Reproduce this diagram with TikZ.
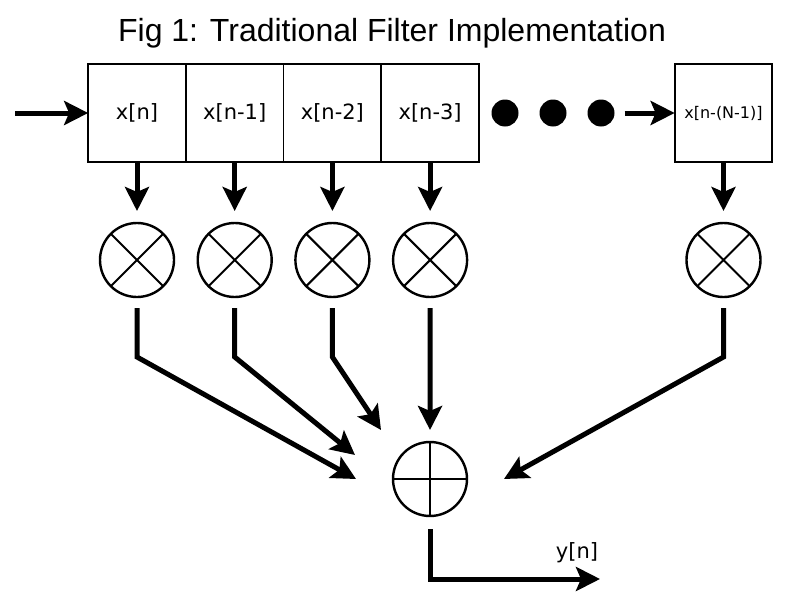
\documentclass[tikz,border=0pt]{standalone}
\usepackage{fontspec}
\newfontfamily\titlefont{Liberation Sans}
\newfontfamily\regfont{DejaVu Sans}
\usetikzlibrary{arrows.meta,positioning,calc}

\begin{document}
\begin{tikzpicture}[x=1pt, y=-1pt, >={Stealth[length=24pt, width=24pt, inset=5pt]},
    reg/.style={draw, line width=1.8pt, minimum width=97.7pt, minimum height=98pt, inner sep=0pt, outer sep=0pt, font=\regfont\fontsize{21}{25}\selectfont},
    mult/.style={circle, draw, line width=2.4pt, minimum size=74pt, inner sep=0pt, outer sep=0pt,
        path picture={\draw[line width=2pt] (path picture bounding box.north west) -- (path picture bounding box.south east)
            (path picture bounding box.north east) -- (path picture bounding box.south west);}},
    adder/.style={circle, draw, line width=2.4pt, minimum size=74pt, inner sep=0pt, outer sep=0pt,
        path picture={\draw[line width=2pt] (path picture bounding box.north) -- (path picture bounding box.south)
            (path picture bounding box.west) -- (path picture bounding box.east);}},
    dot/.style={circle, fill, minimum size=27pt, inner sep=0pt},
    wire/.style={line width=5pt}]
    \useasboundingbox (0,0) rectangle (792,605);

    \node[font=\titlefont\fontsize{32}{38}\selectfont] (title) at (392,33) {Fig 1: Traditional Filter Implementation};

    % shift register
    \node[reg] (x0) at (137,113) {x[n]};
    \node[reg, right=0pt of x0] (x1) {x[n-1]};
    \node[reg, right=0pt of x1] (x2) {x[n-2]};
    \node[reg, right=0pt of x2] (x3) {x[n-3]};
    \node[dot] (d1) at (505,113) {};
    \node[dot] (d2) at (553,113) {};
    \node[dot] (d3) at (601,113) {};
    \node[reg, font=\regfont\fontsize{16}{20}\selectfont] (xN) at (723.5,113) {x[n-(N-1)]};
    \coordinate (in) at (15,113);
    \draw[wire, ->] (in) -- (x0.west);
    \draw[wire, ->, shorten <=10pt] (d3.east) -- (xN.west);

    % multipliers
    \node[mult, below=61pt of x0] (m0) {};
    \node[mult, below=61pt of x1] (m1) {};
    \node[mult, below=61pt of x2] (m2) {};
    \node[mult, below=61pt of x3] (m3) {};
    \node[mult, below=61pt of xN] (mN) {};
    \foreach \i in {0,1,2,3,N}
        \draw[wire, ->, shorten >=12pt] (x\i.south) -- (m\i.north);

    % adder
    \node[adder] (sum) at (430,479) {};
    \coordinate (k) at (0,357);
    \coordinate (t0) at (356,479);
    \coordinate (t1) at (355,455);
    \coordinate (t2) at (381,430);
    \coordinate (tN) at (504,479);
    \draw[wire, ->, shorten <=11pt] (m0.south) -- (m0.south |- k) -- (t0);
    \draw[wire, ->, shorten <=11pt] (m1.south) -- (m1.south |- k) -- (t1);
    \draw[wire, ->, shorten <=11pt] (m2.south) -- (m2.south |- k) -- (t2);
    \draw[wire, ->, shorten <=11pt, shorten >=12pt] (m3.south) -- (sum.north);
    \draw[wire, ->, shorten <=11pt] (mN.south) -- (mN.south |- k) -- (tN);

    % output
    \coordinate (yout) at (600,579);
    \draw[wire, ->, shorten <=13pt] (sum.south) |- (yout);
    \node[font=\regfont\fontsize{21}{25}\selectfont] (ylab) at (577,553) {y[n]};
\end{tikzpicture}
\end{document}
